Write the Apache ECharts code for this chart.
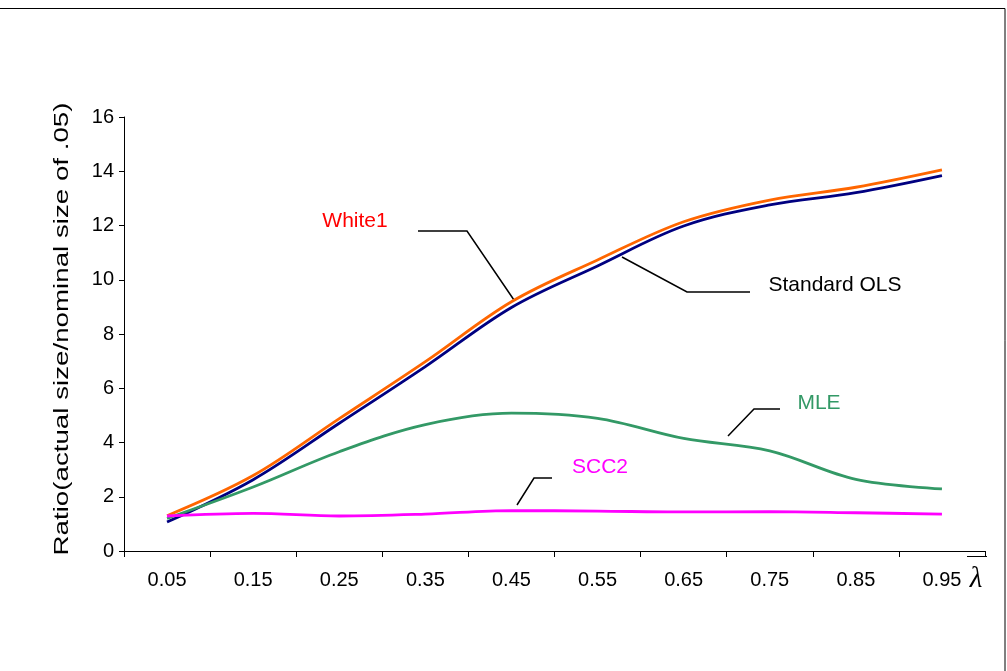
<!DOCTYPE html>
<html>
<head>
<meta charset="utf-8">
<script src="https://cdn.jsdelivr.net/npm/echarts@6/dist/echarts.min.js"></script>
<style>
html,body{margin:0;padding:0;background:#fff;}
#chart{width:1007px;height:671px;}
</style>
</head>
<body>
<div id="chart"></div>
<script>
var categories = ['0.05','0.15','0.25','0.35','0.45','0.55','0.65','0.75','0.85','0.95'];
var white1      = [1.30, 2.78, 4.88, 6.98, 9.19, 10.73, 12.14, 12.94, 13.41, 14.05];
var standardOLS = [1.07, 2.63, 4.71, 6.80, 8.98, 10.51, 11.98, 12.76, 13.21, 13.84];
var mle         = [1.20, 2.36, 3.66, 4.66, 5.08, 4.89, 4.15, 3.69, 2.64, 2.29];
var scc2        = [1.29, 1.39, 1.29, 1.36, 1.49, 1.47, 1.44, 1.45, 1.41, 1.36];
var yTitle = 'Ratio(actual size/nominal size of .05)';

var FONT = '"Liberation Sans", Arial, sans-serif';
var chart = echarts.init(document.getElementById('chart'));

function mkSeries(name, data, color) {
  return {
    name: name, type: 'line', data: data, smooth: 0.35, symbol: 'none',
    lineStyle: {color: color, width: 2.8}, itemStyle: {color: color}, z: 3
  };
}

chart.setOption({
  animation: false,
  backgroundColor: '#fff',
  grid: {left: 124, right: 22, top: 117, bottom: 120},
  xAxis: {
    type: 'category', data: categories, boundaryGap: true,
    axisLine: {lineStyle: {color: '#000', width: 1}},
    axisTick: {show: true, length: 6, lineStyle: {color: '#000'}},
    axisLabel: {color: '#000', fontSize: 20, fontFamily: FONT, margin: 19}
  },
  yAxis: {
    type: 'value', min: 0, max: 16, interval: 2,
    splitLine: {show: false},
    axisLine: {show: true, lineStyle: {color: '#000', width: 1}},
    axisTick: {show: true, length: 5, lineStyle: {color: '#000'}},
    axisLabel: {color: '#000', fontSize: 20, fontFamily: FONT, margin: 10}
  },
  series: [
    mkSeries('White1', white1, '#FF6600'),
    mkSeries('Standard OLS', standardOLS, '#000080'),
    mkSeries('MLE', mle, '#339966'),
    mkSeries('SCC2', scc2, '#FF00FF')
  ],
  graphic: [
    {type: 'rect', shape: {x: -2, y: 8.5, width: 1007, height: 700}, style: {fill: 'none', stroke: '#000', lineWidth: 1}, z: 0},
    {type: 'text', x: 62, y: 329, rotation: Math.PI / 2, scaleX: 1.32,
      style: {text: yTitle, font: '21px ' + FONT, fill: '#000', align: 'center', verticalAlign: 'middle'}},
    {type: 'text', x: 355, y: 221, style: {text: 'White1', font: '21px ' + FONT, fill: '#FF0000', align: 'center', verticalAlign: 'middle'}},
    {type: 'polyline', shape: {points: [[418, 231], [467, 231], [514, 300]]}, style: {stroke: '#000', lineWidth: 1.5, fill: 'none'}},
    {type: 'text', x: 835, y: 285, style: {text: 'Standard OLS', font: '21px ' + FONT, fill: '#000', align: 'center', verticalAlign: 'middle'}},
    {type: 'polyline', shape: {points: [[622, 257], [687, 292], [750, 292]]}, style: {stroke: '#000', lineWidth: 1.5, fill: 'none'}},
    {type: 'text', x: 819, y: 403, style: {text: 'MLE', font: '21px ' + FONT, fill: '#339966', align: 'center', verticalAlign: 'middle'}},
    {type: 'polyline', shape: {points: [[728, 436], [754, 409], [780, 409]]}, style: {stroke: '#000', lineWidth: 1.5, fill: 'none'}},
    {type: 'text', x: 600, y: 467, style: {text: 'SCC2', font: '21px ' + FONT, fill: '#FF00FF', align: 'center', verticalAlign: 'middle'}},
    {type: 'polyline', shape: {points: [[517, 505], [534, 478], [552, 478]]}, style: {stroke: '#000', lineWidth: 1.5, fill: 'none'}},
    {type: 'text', x: 976, y: 579, style: {text: 'λ', font: 'italic 29px "Liberation Serif", "DejaVu Serif", serif', fill: '#000', align: 'center', verticalAlign: 'middle'}},
    {type: 'line', shape: {x1: 967, y1: 556.5, x2: 987, y2: 556.5}, style: {stroke: '#000', lineWidth: 1}}
  ]
});
</script>
</body>
</html>
